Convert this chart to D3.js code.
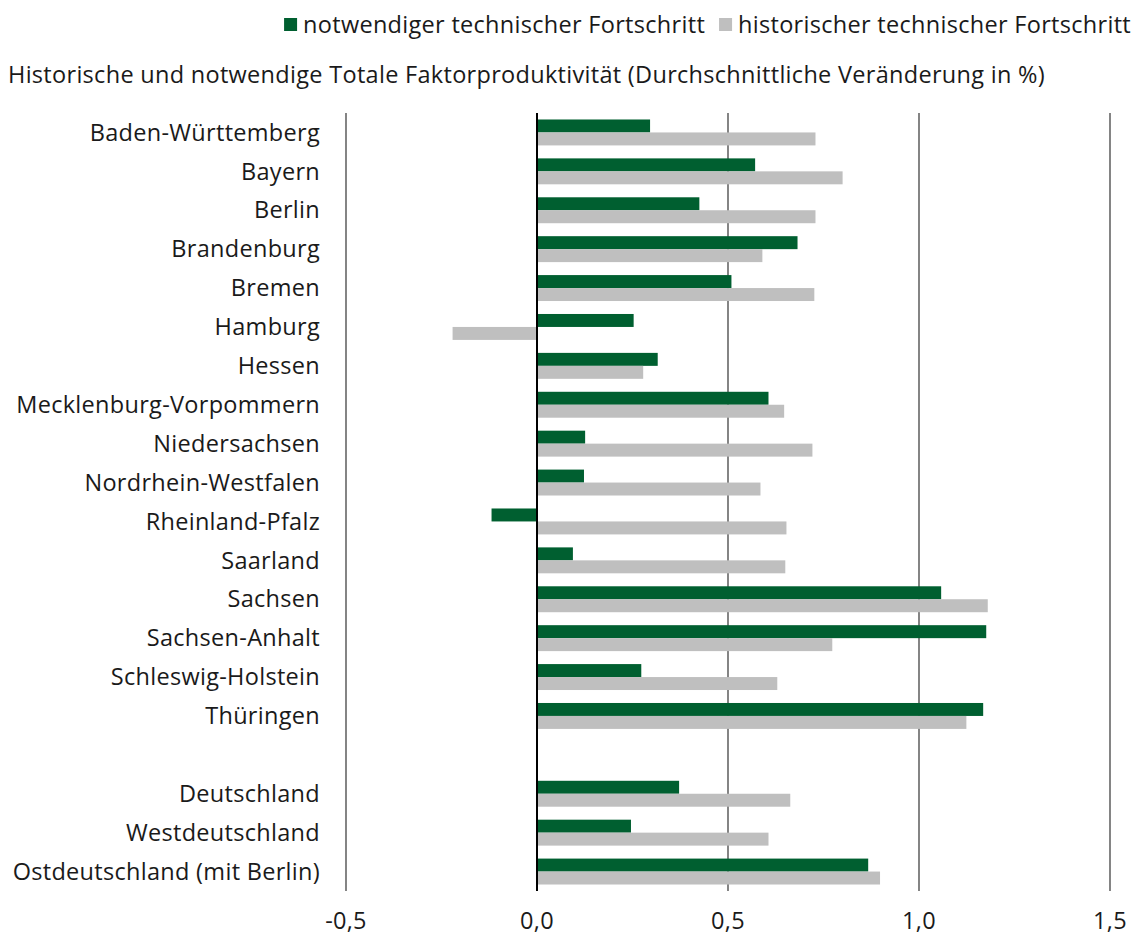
<!DOCTYPE html>
<html>
<head>
<meta charset="utf-8">
<script src="https://cdn.jsdelivr.net/npm/d3@7"></script>
<style>
  body { margin: 0; background: #fff; }
  svg { font-family: "Open Sans", "Noto Sans", sans-serif; letter-spacing: 0.3px; }
</style>
</head>
<body>
<div id="chart"></div>
<script>
// categories (the empty one is the gap row before the aggregates)
const categories = [
  "Baden-Württemberg", "Bayern", "Berlin", "Brandenburg", "Bremen", "Hamburg",
  "Hessen", "Mecklenburg-Vorpommern", "Niedersachsen", "Nordrhein-Westfalen",
  "Rheinland-Pfalz", "Saarland", "Sachsen", "Sachsen-Anhalt", "Schleswig-Holstein",
  "Thüringen", "", "Deutschland", "Westdeutschland", "Ostdeutschland (mit Berlin)"
];

// notwendiger technischer Fortschritt
const notwendig = [
  0.296, 0.571, 0.425, 0.682, 0.509, 0.253,
  0.316, 0.606, 0.126, 0.123,
  -0.119, 0.094, 1.058, 1.176, 0.273,
  1.168, null, 0.372, 0.246, 0.867
];

// historischer technischer Fortschritt
const historisch = [
  0.729, 0.80, 0.729, 0.59, 0.726, -0.221,
  0.278, 0.647, 0.721, 0.585,
  0.653, 0.65, 1.18, 0.773, 0.629,
  1.124, null, 0.663, 0.606, 0.898
];

const ticks = [-0.5, 0, 0.5, 1.0, 1.5];
const seriesNames = ["notwendiger technischer Fortschritt", "historischer technischer Fortschritt"];
const colors = ["#005f30", "#bfbfbf"];

const width = 1137, height = 938;
const margin = {top: 113, right: 27, bottom: 47, left: 346};
const fontSize = 23.5;

const svg = d3.select("#chart").append("svg")
  .attr("width", width)
  .attr("height", height);

const x = d3.scaleLinear()
  .domain([-0.5, 1.5])
  .range([margin.left, width - margin.right]);

const y = d3.scaleBand()
  .domain(categories.map((d, i) => i))
  .range([margin.top, height - margin.bottom])
  .paddingInner(1 / 3)
  .paddingOuter(1 / 6);

const sub = d3.scaleBand()
  .domain([0, 1])
  .range([0, y.bandwidth()]);

// gridlines
svg.append("g")
  .selectAll("line")
  .data(ticks)
  .join("line")
  .attr("x1", d => x(d)).attr("x2", d => x(d))
  .attr("y1", margin.top).attr("y2", height - margin.bottom)
  .attr("stroke", d => d === 0 ? "#000" : "#333")
  .attr("stroke-width", d => d === 0 ? 2 : 1.2);

// bars
const rows = categories.map((c, i) => ({i, vals: [notwendig[i], historisch[i]]}));
const groups = svg.append("g")
  .selectAll("g")
  .data(rows)
  .join("g")
  .attr("transform", d => `translate(0,${y(d.i)})`);

groups.selectAll("rect")
  .data(d => d.vals.map((v, k) => ({v, k})).filter(e => e.v !== null))
  .join("rect")
  .attr("x", e => x(Math.min(0, e.v)))
  .attr("width", e => Math.abs(x(e.v) - x(0)))
  .attr("y", e => sub(e.k))
  .attr("height", sub.bandwidth())
  .attr("fill", e => colors[e.k]);

// redraw zero line on top of bars
svg.append("line")
  .attr("x1", x(0)).attr("x2", x(0))
  .attr("y1", margin.top).attr("y2", height - margin.bottom)
  .attr("stroke", "#000").attr("stroke-width", 2);

// category labels
svg.append("g")
  .selectAll("text")
  .data(categories)
  .join("text")
  .attr("x", 320)
  .attr("y", (d, i) => y(i) + y.bandwidth() / 2)
  .attr("dy", "0.35em")
  .attr("text-anchor", "end")
  .attr("font-size", fontSize)
  .attr("fill", "#1a1a1a")
  .text(d => d);

// x tick labels
const fmt = d => d3.format(".1f")(d).replace(".", ",").replace("−", "-");
svg.append("g")
  .selectAll("text")
  .data(ticks)
  .join("text")
  .attr("x", d => x(d))
  .attr("y", 921)
  .attr("dy", "0.35em")
  .attr("text-anchor", "middle")
  .attr("font-size", fontSize)
  .attr("fill", "#1a1a1a")
  .text(fmt);

// title
svg.append("text")
  .attr("x", 8)
  .attr("y", 75)
  .attr("dy", "0.35em")
  .attr("font-size", fontSize)
  .attr("fill", "#1a1a1a")
  .text("Historische und notwendige Totale Faktorproduktivität (Durchschnittliche Veränderung in %)");

// legend, right aligned like the reference
const legend = svg.append("g")
  .attr("transform", "translate(0,25)");

const items = legend.selectAll("g")
  .data(seriesNames)
  .join("g");

items.append("rect")
  .attr("x", 0).attr("y", -7)
  .attr("width", 13).attr("height", 13)
  .attr("fill", (d, i) => colors[i]);

items.append("text")
  .attr("x", 19)
  .attr("y", 0)
  .attr("dy", "0.35em")
  .attr("font-size", fontSize)
  .attr("fill", "#1a1a1a")
  .text(d => d);

// place items from right edge
let cursor = 1131;
const nodes = items.nodes();
for (let i = nodes.length - 1; i >= 0; i--) {
  const w = d3.select(nodes[i]).select("text").node().getComputedTextLength() + 19;
  cursor -= w;
  d3.select(nodes[i]).attr("transform", `translate(${cursor},0)`);
  cursor -= 14;
}
</script>
</body>
</html>
